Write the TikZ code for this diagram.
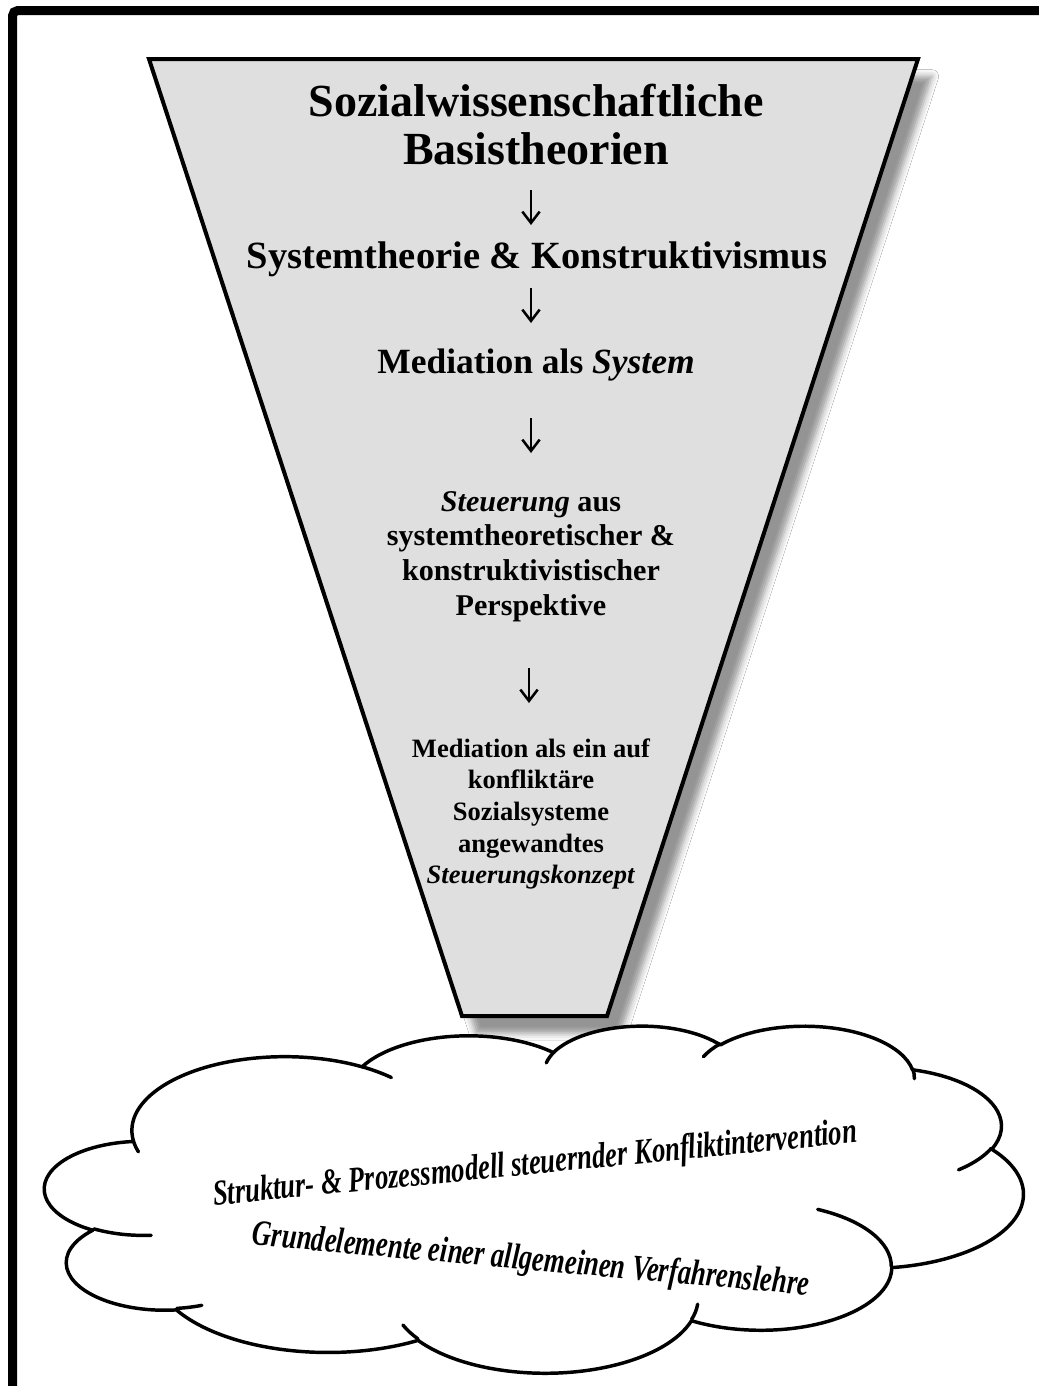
\documentclass[tikz,border=0pt]{standalone}
\usepackage{fontspec}
\setmainfont{Liberation Serif}
\usetikzlibrary{arrows.meta,shadows.blur}
\definecolor{funnelgray}{RGB}{223,223,223}
\newcommand{\cldarc}[4]{%
 \pgfextra{%
  \pgfmathparse{atan2((#1)*sin(#3),(#2)*cos(#3))}\xdef\cldA{\pgfmathresult}%
  \pgfmathparse{atan2((#1)*sin((#3)+(#4)),(#2)*cos((#3)+(#4)))}\xdef\cldB{\pgfmathresult}%
  \pgfmathparse{\cldB-\cldA-360*round((\cldB-\cldA-(#4))/360)}\xdef\cldD{\pgfmathresult}%
 }
 arc[x radius=#1, y radius=#2, start angle=\cldA, delta angle=\cldD]}
\begin{document}
\begin{tikzpicture}[x=0.75pt,y=-0.75pt,
  frame/.style={draw=black, line width=6.75pt, rounded corners=4pt},
  funnel/.style={draw=black, line width=3pt, fill=funnelgray, line join=miter,
    blur shadow={shadow xshift=10.5pt, shadow yshift=-13pt, shadow blur radius=5pt, shadow opacity=42}},
  cloudline/.style={draw=black, line width=2.6pt, line cap=round},
  flowarrow/.style={line width=1.9pt, -{Straight Barb[length=8.5pt, width=13pt, line width=1.9pt]}},
  lbl/.style={anchor=base, inner sep=0pt, font=\bfseries},
  cloudtxt/.style={anchor=base, inner sep=0pt, font=\bfseries\itshape\fontsize{27}{31}\selectfont}
]
\useasboundingbox (0,0) rectangle (1039,1386);
\fill[white] (0,0) rectangle (1039,1386);
% outer frame
\draw[frame] (12.5,10.5) rectangle (1080,1430);
% funnel
\draw[funnel] (149,59) -- (918,59) -- (607,1016) -- (462,1016) -- cycle;
% texts in funnel
\node[lbl, font=\bfseries\fontsize{34.5}{40}\selectfont] (t1a) at (536,116) {Sozialwissenschaftliche};
\node[lbl, font=\bfseries\fontsize{34.5}{40}\selectfont] (t1b) at (536,164) {Basistheorien};
\coordinate (a1s) at (531,190); \coordinate (a1e) at (531,225);
\draw[flowarrow] (a1s) -- (a1e);
\node[lbl, font=\bfseries\fontsize{28.9}{34}\selectfont] (t2) at (537,268) {Systemtheorie \& Konstruktivismus};
\coordinate (a2s) at (531,288); \coordinate (a2e) at (531,323);
\draw[flowarrow] (a2s) -- (a2e);
\node[lbl, font=\bfseries\fontsize{26.6}{31}\selectfont] (t3) at (536,373) {Mediation als \textit{System}};
\coordinate (a3s) at (531,418); \coordinate (a3e) at (531,453);
\draw[flowarrow] (a3s) -- (a3e);
\node[lbl, font=\bfseries\fontsize{22.6}{26}\selectfont] (t4a) at (531,511) {\textit{Steuerung} aus};
\node[lbl, font=\bfseries\fontsize{22.6}{26}\selectfont] (t4b) at (531,545) {systemtheoretischer \&};
\node[lbl, font=\bfseries\fontsize{22.6}{26}\selectfont] (t4c) at (531,580) {konstruktivistischer};
\node[lbl, font=\bfseries\fontsize{22.6}{26}\selectfont] (t4d) at (531,615) {Perspektive};
\coordinate (a4s) at (529,668); \coordinate (a4e) at (529,703);
\draw[flowarrow] (a4s) -- (a4e);
\node[lbl, font=\bfseries\fontsize{19.9}{24}\selectfont] (t5a) at (531,757) {Mediation als ein auf};
\node[lbl, font=\bfseries\fontsize{19.9}{24}\selectfont] (t5b) at (531,788) {konfliktäre};
\node[lbl, font=\bfseries\fontsize{19.9}{24}\selectfont] (t5c) at (531,820) {Sozialsysteme};
\node[lbl, font=\bfseries\fontsize{19.9}{24}\selectfont] (t5d) at (531,852) {angewandtes};
\node[lbl, font=\bfseries\fontsize{19.9}{24}\selectfont] (t5e) at (531,883) {\textit{Steuerungskonzept}};
% cloud
\begin{scope}[shift={(45,1025)}, x=1.698pt, y=-0.6024pt]
\path[fill=white, cloudline, line cap=butt, line join=round] (39.00,143.70)
  \cldarc{67.53}{91.90}{-190.4875}{123.7805}
  \cldarc{53.33}{72.67}{-144.1024}{89.9452}
  \cldarc{43.65}{59.45}{-145.8079}{99.7230}
  \cldarc{48.57}{65.95}{-130.9861}{117.2417}
  \cldarc{53.33}{72.73}{-78.7089}{109.0269}
  \cldarc{67.75}{92.20}{-46.2673}{130.2690}
  \cldarc{57.85}{78.67}{0.6250}{114.0333}
  \cldarc{67.52}{92.15}{22.4516}{115.1726}
  \cldarc{77.20}{105.43}{66.2426}{75.7110}
  \cldarc{43.60}{59.18}{-274.9421}{146.7356}
  \cldarc{43.45}{59.45}{-246.8285}{152.5189}
  -- cycle;
\path[cloudline]
  (46.93,261.77) \cldarc{43.45}{59.45}{86.7420}{26.4295}
  (69.28,348.99) \cldarc{43.60}{59.18}{73.6105}{11.4475}
  (164.78,390.90) \cldarc{67.52}{92.15}{137.6242}{14.0811}
  (288.27,347.51) \cldarc{67.52}{92.15}{6.4533}{15.9984}
  (341.29,229.54) \cldarc{57.85}{78.67}{-70.2924}{70.9174}
  (417.98,153.54) \cldarc{53.33}{72.73}{30.3180}{27.7515}
  (383.24,54.26) \cldarc{48.57}{65.95}{-13.7443}{14.8589}
  (290.78,39.52) \cldarc{48.57}{65.95}{-149.1815}{18.1954}
  (221.41,47.20) \cldarc{43.65}{59.45}{-163.4943}{17.6864}
  (140.00,51.92) \cldarc{67.53}{91.90}{-66.7070}{12.3194}
  (41.27,157.89) \cldarc{67.53}{91.90}{157.6544}{11.8582};
\end{scope}
\node[cloudtxt, rotate=5.6] (c1) at (536,1174) {\scalebox{0.74}[1]{Struktur- \& Prozessmodell steuernder Konfliktintervention}};
\node[cloudtxt, rotate=-5.2] (c2) at (530,1270) {\scalebox{0.74}[1]{Grundelemente einer allgemeinen Verfahrenslehre}};
\end{tikzpicture}
\end{document}
